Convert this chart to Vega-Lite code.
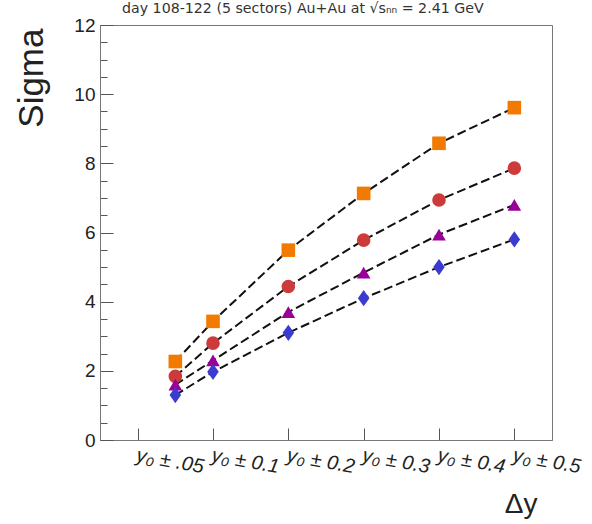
{
  "$schema": "https://vega.github.io/schema/vega-lite/v6.json",
  "width": 452,
  "height": 415,
  "autosize": {"type": "none"},
  "padding": {"left": 100, "top": 25, "right": 40, "bottom": 84},
  "background": "white",
  "config": {
    "view": {"stroke": "#777", "strokeWidth": 1},
    "font": "Liberation Sans"
  },
  "title": {
    "text": "day 108-122 (5 sectors)  Au+Au at √sₙₙ = 2.41 GeV",
    "anchor": "start",
    "frame": "group",
    "dx": 22,
    "offset": 0,
    "fontSize": 14.2,
    "fontWeight": "normal",
    "color": "#333",
    "font": "DejaVu Sans"
  },
  "data": {
    "values": [
      {"dy": 0.05, "sigma": 2.27, "set": "set1"},
      {"dy": 0.1, "sigma": 3.43, "set": "set1"},
      {"dy": 0.2, "sigma": 5.49, "set": "set1"},
      {"dy": 0.3, "sigma": 7.13, "set": "set1"},
      {"dy": 0.4, "sigma": 8.58, "set": "set1"},
      {"dy": 0.5, "sigma": 9.61, "set": "set1"},
      {"dy": 0.05, "sigma": 1.84, "set": "set2"},
      {"dy": 0.1, "sigma": 2.8, "set": "set2"},
      {"dy": 0.2, "sigma": 4.44, "set": "set2"},
      {"dy": 0.3, "sigma": 5.78, "set": "set2"},
      {"dy": 0.4, "sigma": 6.94, "set": "set2"},
      {"dy": 0.5, "sigma": 7.86, "set": "set2"},
      {"dy": 0.05, "sigma": 1.6, "set": "set3"},
      {"dy": 0.1, "sigma": 2.3, "set": "set3"},
      {"dy": 0.2, "sigma": 3.7, "set": "set3"},
      {"dy": 0.3, "sigma": 4.84, "set": "set3"},
      {"dy": 0.4, "sigma": 5.94, "set": "set3"},
      {"dy": 0.5, "sigma": 6.8, "set": "set3"},
      {"dy": 0.05, "sigma": 1.3, "set": "set4"},
      {"dy": 0.1, "sigma": 1.97, "set": "set4"},
      {"dy": 0.2, "sigma": 3.1, "set": "set4"},
      {"dy": 0.3, "sigma": 4.1, "set": "set4"},
      {"dy": 0.4, "sigma": 5.0, "set": "set4"},
      {"dy": 0.5, "sigma": 5.8, "set": "set4"}
    ]
  },
  "encoding": {
    "x": {
      "field": "dy",
      "type": "quantitative",
      "scale": {"domain": [-0.05, 0.55], "nice": false, "zero": false},
      "axis": {
        "title": "Δy",
        "titleFontSize": 28,
        "titleFontWeight": "normal",
        "titleColor": "#222",
        "titleAnchor": "end",
        "titleAlign": "right",
        "titleBaseline": "alphabetic",
        "titleX": 437,
        "titleY": 72,
        "values": [0, 0.1, 0.2, 0.3, 0.4, 0.5],
        "labelExpr": "['y₀ ± .05','y₀ ± 0.1','y₀ ± 0.2','y₀ ± 0.3','y₀ ± 0.4','y₀ ± 0.5'][round(datum.value*10)]",
        "labelAlign": "left",
        "labelBaseline": "top",
        "labelAngle": 10,
        "labelDx": 9,
        "labelPadding": 17,
        "labelFontSize": 20,
        "labelFontStyle": "italic",
        "labelColor": "#222",
        "labelFlush": false,
        "labelOverlap": false,
        "labelBound": false,
        "tickSize": -12,
        "tickColor": "#555",
        "domainColor": "#777",
        "grid": false
      }
    },
    "y": {
      "field": "sigma",
      "type": "quantitative",
      "scale": {"domain": [0, 12], "nice": false},
      "axis": {
        "title": "Sigma",
        "titleFontSize": 35,
        "titleFontWeight": "normal",
        "titleColor": "#222",
        "titleAngle": -90,
        "titleAlign": "right",
        "titleBaseline": "middle",
        "titleX": -69,
        "titleY": 3,
        "values": [0, 0.5, 1, 1.5, 2, 2.5, 3, 3.5, 4, 4.5, 5, 5.5, 6, 6.5, 7, 7.5, 8, 8.5, 9, 9.5, 10, 10.5, 11, 11.5, 12],
        "labelExpr": "datum.value % 2 === 0 ? format(datum.value, 'd') : ''",
        "labelFontSize": 19,
        "labelColor": "#222",
        "labelPadding": 18,
        "labelFlush": false,
        "labelOverlap": false,
        "tickSize": {"condition": {"test": "datum.value % 2 === 0", "value": -13}, "value": -7},
        "tickColor": "#555",
        "tickWidth": 1,
        "domainColor": "#777",
        "grid": false
      }
    }
  },
  "layer": [
    {
      "mark": {"type": "line", "color": "#111", "strokeWidth": 2, "strokeDash": [9, 4]},
      "encoding": {"detail": {"field": "set"}}
    },
    {
      "mark": {"type": "point", "filled": true, "opacity": 1, "strokeWidth": 0},
      "encoding": {
        "color": {
          "field": "set",
          "scale": {"domain": ["set1", "set2", "set3", "set4"], "range": ["#f27a00", "#cc3a3a", "#990099", "#3b3bd0"]},
          "legend": null
        },
        "shape": {
          "field": "set",
          "scale": {"domain": ["set1", "set2", "set3", "set4"], "range": ["square", "circle", "triangle-up", "M0,-1.2L0.85,0L0,1.2L-0.85,0Z"]},
          "legend": null
        },
        "size": {"value": 185}
      }
    }
  ]
}
